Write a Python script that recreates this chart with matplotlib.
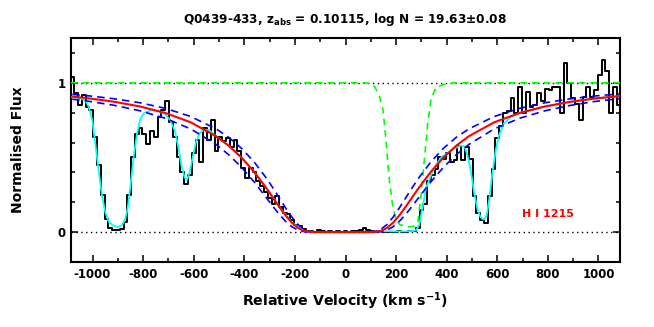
import numpy as np
import matplotlib
matplotlib.use("Agg")
import matplotlib.pyplot as plt
from matplotlib.ticker import MultipleLocator, FixedLocator

plt.rcParams['font.family'] = ['DejaVu Sans']
plt.rcParams['font.weight'] = 'bold'
plt.rcParams['mathtext.default'] = 'bf'
plt.rcParams['axes.unicode_minus'] = False

# observed spectrum, one value per 15 km/s pixel from -1080 to +1080
vel = np.arange(-1080, 1081, 15)
flux = [1.04, 0.93, 0.85, 0.92, 0.84, 0.82, 0.64, 0.45, 0.25, 0.09,
        0.03, 0.015, 0.015, 0.02, 0.07, 0.25, 0.50, 0.66, 0.70, 0.66,
        0.59, 0.68, 0.64, 0.77, 0.82, 0.88, 0.74, 0.64, 0.50, 0.40,
        0.32, 0.38, 0.53, 0.62, 0.47, 0.70, 0.62, 0.75, 0.54, 0.64,
        0.61, 0.63, 0.57, 0.62, 0.54, 0.43, 0.36, 0.43, 0.40, 0.34,
        0.31, 0.27, 0.23, 0.19, 0.24, 0.17, 0.13, 0.12, 0.08, 0.045,
        0.04, 0.02, 0.01, 0.005, 0.0, 0.012, 0.008, 0.003, 0.006, 0.0,
        0.005, 0.002, 0.008, 0.004, 0.006, 0.01, 0.015, 0.03, 0.012, 0.01,
        0.004, 0.006, 0.0, 0.004, 0.003, 0.002, 0.005, 0.003, 0.004, 0.006,
        0.005, 0.03, 0.15, 0.19, 0.34, 0.385, 0.42, 0.50, 0.49, 0.53,
        0.47, 0.485, 0.575, 0.485, 0.57, 0.49, 0.24, 0.13, 0.08, 0.06,
        0.24, 0.42, 0.63, 0.71, 0.80, 0.81, 0.895, 0.80, 0.97, 0.80,
        0.94, 0.84, 0.85, 0.93, 0.88, 0.96, 0.95, 0.97, 0.97, 0.80,
        1.13, 1.00, 0.90, 0.86, 0.75, 0.905, 0.97, 0.905, 0.95, 1.05,
        1.15, 1.08, 0.80, 0.97, 0.85]

# DLA fit (red) and +/- 0.08 dex in log N (blue dashed)
fit_vel = [-1080, -1012, -912, -812, -712, -612, -512, -462, -412, -362,
           -312, -287, -262, -237, -212, -187, -162, -137, -112, -12,
           88, 113, 138, 163, 188, 213, 238, 263, 288, 338,
           388, 438, 488, 588, 688, 788, 888, 988, 1085]
fit_best = [0.9076, 0.8953, 0.8724, 0.8413, 0.7980, 0.7355, 0.6425, 0.5791, 0.5010, 0.4054,
            0.2926, 0.2317, 0.1704, 0.1125, 0.0630, 0.0270, 0.0073, 0.0008, 0.0, 0.0,
            0.0, 0.0008, 0.0073, 0.0270, 0.0630, 0.1125, 0.1704, 0.2317, 0.2926, 0.4054,
            0.5010, 0.5791, 0.6425, 0.7355, 0.7980, 0.8413, 0.8724, 0.8953, 0.9114]
fit_low_n = [0.9225, 0.9121, 0.8926, 0.8661, 0.8288, 0.7744, 0.6920, 0.6349, 0.5626, 0.4718,
             0.3597, 0.2962, 0.2294, 0.1624, 0.1002, 0.0496, 0.0167, 0.0028, 0.0001, 0.0,
             0.0001, 0.0028, 0.0167, 0.0496, 0.1002, 0.1624, 0.2294, 0.2962, 0.3597, 0.4718,
             0.5626, 0.6349, 0.6920, 0.7744, 0.8288, 0.8661, 0.8926, 0.9121, 0.9257]
fit_high_n = [0.8900, 0.8755, 0.8486, 0.8124, 0.7624, 0.6913, 0.5876, 0.5187, 0.4357, 0.3378,
              0.2283, 0.1724, 0.1192, 0.0724, 0.0360, 0.0130, 0.0027, 0.0002, 0.0, 0.0,
              0.0, 0.0002, 0.0027, 0.0130, 0.0360, 0.0724, 0.1192, 0.1724, 0.2283, 0.3378,
              0.4357, 0.5187, 0.5876, 0.6913, 0.7624, 0.8124, 0.8486, 0.8755, 0.8945]

# total model incl. the other absorbers (cyan)
tot_vel = [-1085, -1045, -1028, -1015, -1001, -988, -975, -962, -949, -936,
           -920, -902, -885, -872, -862, -850, -837, -824, -811, -795,
           -770, -740, -713, -693, -675, -662, -648, -636, -627, -616,
           -603, -590, -575, -560, -540, -512, -462, -412, -362, -312,
           -262, -212, -162, -112, 88, 138, 188, 240, 270, 280,
           292, 305, 319, 338, 358, 378, 404, 430, 456, 470,
           483, 496, 509, 522, 534, 546, 558, 568, 581, 594,
           607, 627, 653, 688, 788, 888, 988, 1085]
tot_flux = [0.905, 0.895, 0.88, 0.84, 0.75, 0.58, 0.40, 0.24, 0.13, 0.07,
            0.045, 0.035, 0.045, 0.08, 0.15, 0.31, 0.51, 0.66, 0.76, 0.80,
            0.815, 0.81, 0.79, 0.75, 0.68, 0.58, 0.44, 0.365, 0.35, 0.40,
            0.51, 0.61, 0.665, 0.685, 0.685, 0.6425, 0.5791, 0.5010, 0.4054, 0.2926,
            0.1704, 0.0630, 0.0073, 0.0, 0.0, 0.006, 0.005, 0.005, 0.008, 0.015,
            0.05, 0.17, 0.30, 0.38, 0.45, 0.50, 0.53, 0.56, 0.58, 0.575,
            0.51, 0.40, 0.26, 0.15, 0.10, 0.083, 0.11, 0.22, 0.40, 0.55,
            0.65, 0.73, 0.77, 0.7980, 0.8413, 0.8724, 0.8953, 0.9114]

# interloper component (green dashed)
int_vel = [-1085, 75, 100, 115, 134, 148, 161, 168, 174, 187,
           200, 215, 250, 273, 286, 299, 312, 325, 338, 358,
           391, 430, 1085]
int_flux = [1.0, 1.0, 0.995, 0.975, 0.91, 0.82, 0.60, 0.45, 0.34, 0.17,
            0.08, 0.05, 0.035, 0.04, 0.07, 0.25, 0.49, 0.73, 0.89, 0.97,
            0.99, 1.0, 1.0]

fig = plt.figure(figsize=(6.54, 3.27), dpi=100)
ax = fig.add_axes([0.1086, 0.1988, 0.8394, 0.6850])

ax.axhline(1.0, color='black', ls=(0, (1, 2.5)), lw=1.0, zorder=1)
ax.axhline(0.0, color='black', ls=(0, (1, 2.5)), lw=1.0, zorder=1)

ax.plot(vel, flux, drawstyle='steps-mid', color='black', lw=1.4, zorder=2)
ax.plot(tot_vel, tot_flux, color='#00ffff', lw=1.3, zorder=3)
ax.plot(int_vel, int_flux, color='#00ff00', lw=1.2, dashes=(4, 3), zorder=4)
ax.plot(fit_vel, fit_low_n, color='#0000ff', lw=1.2, dashes=(4.5, 3), zorder=5)
ax.plot(fit_vel, fit_high_n, color='#0000ff', lw=1.2, dashes=(4.5, 3), zorder=5)
ax.plot(fit_vel, fit_best, color='#ff0000', lw=1.5, zorder=6)

ax.text(802, 0.122, 'H I 1215', color='#ff0000', fontsize=8, fontweight='bold',
        ha='center', va='center')

ax.set_xlim(-1085, 1085)
ax.set_ylim(-0.2, 1.3)
ax.xaxis.set_major_locator(MultipleLocator(200))
ax.xaxis.set_minor_locator(MultipleLocator(100))
ax.yaxis.set_major_locator(FixedLocator([0, 1]))
ax.yaxis.set_minor_locator(MultipleLocator(0.2))
ax.tick_params(which='both', direction='in', top=True, right=True, width=1.1,
               labelsize=8.5)
ax.tick_params(which='major', length=4.8)
ax.tick_params(which='minor', length=3)
ax.tick_params(axis='x', pad=4)
ax.tick_params(axis='y', pad=4)
for sp in ax.spines.values():
    sp.set_linewidth(1.5)

ax.set_xlabel('Relative Velocity (km s$^{-1}$)', fontsize=10.2, fontweight='bold', labelpad=7)
ax.set_ylabel('Normalised Flux', fontsize=10, fontweight='bold', labelpad=23)
ax.set_title('Q0439-433, z$_{abs}$ = 0.10115, log N = 19.63±0.08',
             fontsize=8.7, fontweight='bold', pad=11)

fig.savefig('out.png', dpi=100)
